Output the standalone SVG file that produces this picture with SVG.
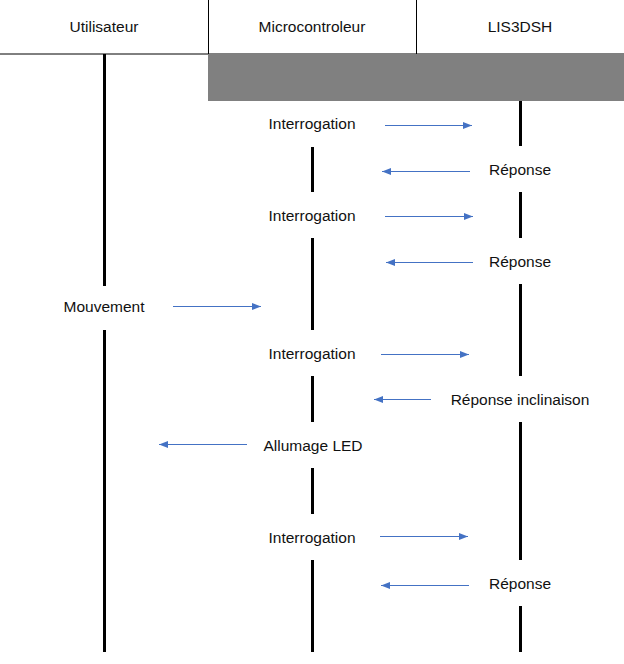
<svg xmlns="http://www.w3.org/2000/svg" width="624" height="664" viewBox="0 0 624 664">
<style>
text{font-family:"Liberation Sans",Arial,sans-serif;font-size:15.5px;fill:#111;text-anchor:middle}
.life{stroke:#000;stroke-width:3;fill:none}
.hdr{stroke:#000;stroke-width:1;fill:none}
.msg{stroke:#4472C4;stroke-width:1;fill:none;marker-end:url(#ah)}
</style>
<defs>
<marker id="ah" markerUnits="userSpaceOnUse" markerWidth="10" markerHeight="8" refX="9" refY="3.5" orient="auto">
<path d="M0,0 L9,3.5 L0,7 z" fill="#4472C4"/>
</marker>
</defs>
<rect width="624" height="664" fill="#fff"/>
<g id="header">
<line class="hdr" x1="0" y1="54" x2="624" y2="54"/>
<line class="hdr" x1="208.5" y1="0" x2="208.5" y2="54"/>
<line class="hdr" x1="416.5" y1="0" x2="416.5" y2="54"/>
<rect x="208" y="54" width="416" height="47" fill="#808080"/>
</g>
<g id="utilisateur">
<text x="104" y="32">Utilisateur</text>
<path class="life" d="M104.5,54 V286 M104.5,330 V652"/>
</g>
<g id="microcontroleur">
<text x="312" y="32">Microcontroleur</text>
<path class="life" d="M312.5,147 V192 M312.5,238 V330 M312.5,376 V422 M312.5,468 V514 M312.5,560 V652"/>
</g>
<g id="lis3dsh">
<text x="520" y="32">LIS3DSH</text>
<path class="life" d="M520.5,101 V146 M520.5,192 V238 M520.5,284 V376 M520.5,422 V560 M520.5,606 V652"/>
</g>
<g id="labels">
<text x="312" y="129">Interrogation</text>
<text x="520" y="175">Réponse</text>
<text x="312" y="221">Interrogation</text>
<text x="520" y="267">Réponse</text>
<text x="104" y="312">Mouvement</text>
<text x="312" y="359">Interrogation</text>
<text x="520" y="405">Réponse inclinaison</text>
<text x="313" y="451">Allumage LED</text>
<text x="312" y="543">Interrogation</text>
<text x="520" y="589">Réponse</text>
</g>
<g id="connectors">
<line class="msg" x1="385" y1="125.5" x2="472" y2="125.5"/>
<line class="msg" x1="470" y1="171.5" x2="382" y2="171.5"/>
<line class="msg" x1="385" y1="216.5" x2="473" y2="216.5"/>
<line class="msg" x1="473" y1="262.5" x2="386" y2="262.5"/>
<line class="msg" x1="173" y1="306.5" x2="261" y2="306.5"/>
<line class="msg" x1="381" y1="354.5" x2="469" y2="354.5"/>
<line class="msg" x1="431" y1="399.5" x2="374" y2="399.5"/>
<line class="msg" x1="247" y1="444.5" x2="159" y2="444.5"/>
<line class="msg" x1="380" y1="536.5" x2="468" y2="536.5"/>
<line class="msg" x1="469" y1="585.5" x2="381" y2="585.5"/>
</g>
</svg>
